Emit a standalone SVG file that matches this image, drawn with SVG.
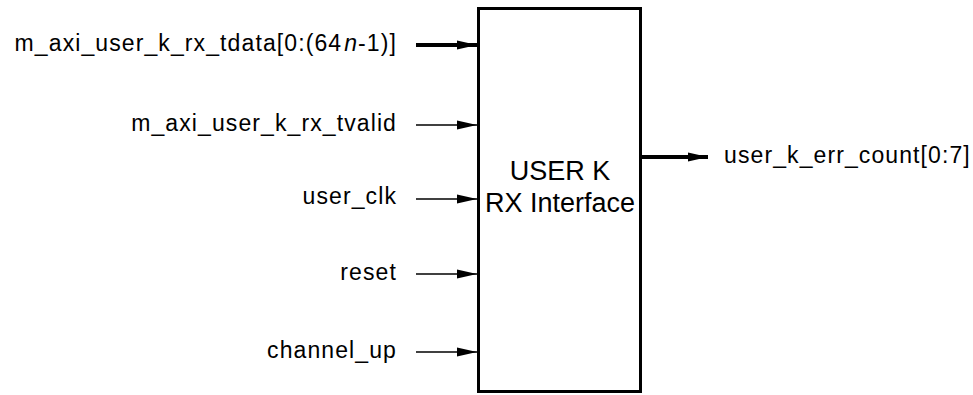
<svg xmlns="http://www.w3.org/2000/svg" width="973" height="395" viewBox="0 0 973 395">
<style>
text{font-family:"Liberation Sans",Arial,sans-serif;fill:#000}
.lbl{font-size:23px;letter-spacing:1.1px}
.box{font-size:27px;text-anchor:middle}
.thin{stroke:#000;stroke-width:1.3;fill:none}
.thick{stroke:#000;stroke-width:4;fill:none}
</style>
<defs>
<marker id="ah" markerWidth="20" markerHeight="10" refX="20" refY="5" orient="auto" markerUnits="userSpaceOnUse">
<path d="M0,0.5 L20,5 L0,9.5 Z" fill="#000"/>
</marker>
</defs>
<rect width="973" height="395" fill="#fff"/>
<g id="block">
<rect x="478.5" y="8.5" width="162" height="383" fill="#fff" stroke="#000" stroke-width="3"/>
<text class="box" x="560" y="180">USER K</text>
<text class="box" x="560" y="212">RX Interface</text>
</g>
<g id="connectors">
<line class="thick" x1="416" y1="45" x2="477" y2="45" marker-end="url(#ah)"/>
<line class="thin" x1="416" y1="125" x2="477" y2="125" marker-end="url(#ah)"/>
<line class="thin" x1="416" y1="199" x2="477" y2="199" marker-end="url(#ah)"/>
<line class="thin" x1="416" y1="274" x2="477" y2="274" marker-end="url(#ah)"/>
<line class="thin" x1="416" y1="352" x2="477" y2="352" marker-end="url(#ah)"/>
<line class="thick" x1="641" y1="157" x2="708" y2="157" marker-end="url(#ah)"/>
</g>
<g id="sig-tdata"><text class="lbl" x="397" y="51" text-anchor="end">m_axi_user_k_rx_tdata[0:(64<tspan font-style="italic" dx="2">n</tspan>-1)]</text></g>
<g id="sig-tvalid"><text class="lbl" x="397" y="131" text-anchor="end">m_axi_user_k_rx_tvalid</text></g>
<g id="sig-clk"><text class="lbl" x="397" y="204" text-anchor="end">user_clk</text></g>
<g id="sig-reset"><text class="lbl" x="397" y="280" text-anchor="end">reset</text></g>
<g id="sig-chup"><text class="lbl" x="397" y="358" text-anchor="end">channel_up</text></g>
<g id="sig-err"><text class="lbl" x="724" y="163">user_k_err_count[0:7]</text></g>
</svg>
